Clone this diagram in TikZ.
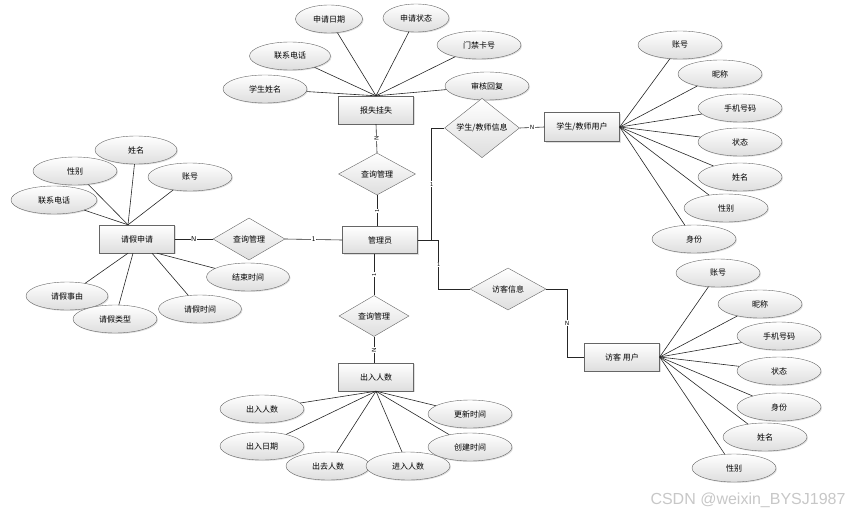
\documentclass[tikz,border=0pt]{standalone}
\usepackage{fontspec}
\newfontfamily\cjk{Noto Sans CJK SC}
\newfontfamily\wmfont{Liberation Sans}
\usetikzlibrary{shapes.geometric, shadows}

\begin{document}
\begin{tikzpicture}[x=1pt,y=1pt,yscale=-1,xscale=1,
  attr/.style={ellipse, draw=black!60, top color=white, bottom color=black!13, minimum width=84, minimum height=28, inner sep=0pt, font=\cjk\fontsize{8}{9}\selectfont, drop shadow={shadow xshift=1pt, shadow yshift=-1pt, fill=black!25}},
  ent/.style={rectangle, draw=black!60, top color=white, bottom color=black!13, minimum width=75, minimum height=28, inner sep=0pt, font=\cjk\fontsize{8}{9}\selectfont, drop shadow={shadow xshift=1pt, shadow yshift=-1pt, fill=black!25}},
  rel/.style={diamond, draw=black!60, top color=white, bottom color=black!13, minimum width=76, minimum height=42, inner sep=0pt, font=\cjk\fontsize{8}{9}\selectfont},
  conn/.style={draw=black!85, line width=0.6pt},
  card/.style={font=\sffamily\fontsize{6}{6}\selectfont, inner sep=0.6pt, fill=white}]
\useasboundingbox (0,0) rectangle (850,516);

%Entity: 报失挂失 and its attributes
\node [ent] (bsgs) at (376,110) {报失挂失};
\node [attr, minimum width=67] (bsgsDate) at (329,19) {申请日期};
\node [attr, minimum width=66] (bsgsState) at (416,18) {申请状态};
\node [attr, minimum width=81] (bsgsTel) at (290,56) {联系电话};
\node [attr] (bsgsCard) at (479,45) {门禁卡号};
\node [attr] (bsgsName) at (265,89) {学生姓名};
\node [attr] (bsgsReply) at (487,86) {审核回复};

%Relations and entities in the middle
\node [rel, minimum width=77] (cxTop) at (377,174) {查询管理};
\node [ent, minimum height=27] (gly) at (380,240) {管理员};
\node [rel, minimum width=72] (cxLeft) at (249,239) {查询管理};
\node [rel, minimum width=70, minimum height=41] (cxBottom) at (374,316) {查询管理};

%Entity: 请假申请 and its attributes
\node [ent] (qjsq) at (137,239) {请假申请};
\node [attr, minimum width=82] (qjName) at (136,150) {姓名};
\node [attr] (qjSex) at (75,171) {性别};
\node [attr] (qjAcc) at (190,177) {账号};
\node [attr, minimum width=86] (qjTel) at (54,200) {联系电话};
\node [attr, minimum width=82] (qjReason) at (67,296) {请假事由};
\node [attr] (qjType) at (115,319) {请假类型};
\node [attr, minimum width=83] (qjTime) at (200,309) {请假时间};
\node [attr, minimum width=83] (qjEnd) at (248,277) {结束时间};

%Entity: 出入人数 and its attributes
\node [ent] (crrs) at (376,377) {出入人数};
\node [attr] (crNum) at (262,409) {出入人数};
\node [attr] (crDate) at (262,446) {出入日期};
\node [attr] (crOut) at (328,466) {出去人数};
\node [attr] (crIn) at (408,466) {进入人数};
\node [attr] (crUpd) at (470,414) {更新时间};
\node [attr] (crNew) at (470,447) {创建时间};

%Entity: 学生/教师用户 and its attributes
\node [rel, minimum width=75, minimum height=41] (xsxx) at (482,128) {学生/教师信息};
\node [ent, minimum height=29] (xsyh) at (582,127) {学生/教师用户};
\node [attr] (xsAcc) at (680,45) {账号};
\node [attr] (xsNick) at (720,74) {昵称};
\node [attr] (xsPhone) at (740,108) {手机号码};
\node [attr] (xsState) at (740,142) {状态};
\node [attr] (xsName) at (740,177) {姓名};
\node [attr] (xsSex) at (726,208) {性别};
\node [attr] (xsRole) at (694,239) {身份};

%Entity: 访客用户 and its attributes
\node [rel] (fkxx) at (508,289) {访客信息};
\node [ent] (fkyh) at (622,357) {访客 用户};
\node [attr] (fkAcc) at (718,273) {账号};
\node [attr] (fkNick) at (760,304) {昵称};
\node [attr] (fkPhone) at (779,336) {手机号码};
\node [attr] (fkState) at (779,371) {状态};
\node [attr] (fkRole) at (779,407) {身份};
\node [attr] (fkName) at (765,437) {姓名};
\node [attr] (fkSex) at (734,468) {性别};

%Straight Lines: attributes of 报失挂失
\draw [conn] (bsgs.north) -- (bsgsDate);
\draw [conn] (bsgs.north) -- (bsgsState);
\draw [conn] (bsgs.north) -- (bsgsTel);
\draw [conn] (bsgs.north) -- (bsgsCard);
\draw [conn] (bsgs.north) -- (bsgsName);
\draw [conn] (bsgs.north) -- (bsgsReply);
%Straight Lines: attributes of 请假申请
\draw [conn] ([xshift=-9pt]qjsq.north) -- (qjName);
\draw [conn] ([xshift=-9pt]qjsq.north) -- (qjSex);
\draw [conn] ([xshift=-9pt]qjsq.north) -- (qjAcc);
\draw [conn] ([xshift=-9pt]qjsq.north) -- (qjTel);
\draw [conn] ([xshift=-9pt]qjsq.south) -- (qjReason);
\draw [conn] ([xshift=-4pt]qjsq.south) -- (qjType);
\draw [conn] ([xshift=15pt]qjsq.south) -- (qjTime);
\draw [conn] ([xshift=20pt]qjsq.south) -- (qjEnd);
%Straight Lines: attributes of 出入人数
\draw [conn] (crrs.south) -- (crNum);
\draw [conn] (crrs.south) -- (crDate);
\draw [conn] (crrs.south) -- (crOut);
\draw [conn] (crrs.south) -- (crIn);
\draw [conn] (crrs.south) -- (crUpd);
\draw [conn] (crrs.south) -- (crNew);
%Straight Lines: attributes of 学生/教师用户
\draw [conn] (xsyh.east) -- (xsAcc);
\draw [conn] (xsyh.east) -- (xsNick);
\draw [conn] (xsyh.east) -- (xsPhone);
\draw [conn] (xsyh.east) -- (xsState);
\draw [conn] (xsyh.east) -- (xsName);
\draw [conn] (xsyh.east) -- (xsSex);
\draw [conn] (xsyh.east) -- (xsRole);
%Straight Lines: attributes of 访客用户
\draw [conn] (fkyh.east) -- (fkAcc);
\draw [conn] (fkyh.east) -- (fkNick);
\draw [conn] (fkyh.east) -- (fkPhone);
\draw [conn] (fkyh.east) -- (fkState);
\draw [conn] (fkyh.east) -- (fkRole);
\draw [conn] (fkyh.east) -- (fkName);
\draw [conn] (fkyh.east) -- (fkSex);

%Relation lines with cardinalities
\draw [conn] (bsgs.south) -- node [card, rotate=90] {N} (cxTop.north);
\draw [conn] (cxTop.south) -- node [card, rotate=90] {1} (cxTop.south |- gly.north);
\draw [conn] (qjsq.east) -- node [card, font=\sffamily\fontsize{7}{7}\selectfont] {N} (cxLeft.west);
\draw [conn] (cxLeft.east) -- node [card, font=\sffamily\fontsize{7}{7}\selectfont] {1} (gly.west);
\draw [conn] (gly.south -| cxBottom.north) -- node [card, rotate=90] {1} (cxBottom.north);
\draw [conn] (cxBottom.south) -- node [card, rotate=90] {N} (crrs.north -| cxBottom.south);
\draw [conn] (gly.east) -- ++(14,0) |- node [card, pos=0.25] {1} (xsxx.west);
\draw [conn] (xsxx.east) -- node [card] {N} (xsyh.west);
\draw [conn] (gly.east) -- ++(21,0) |- node [card, pos=0.25] {1} (fkxx.west);
\draw [conn] (fkxx.east) -- ++(21,0) |- node [card, pos=0.25] {N} (fkyh.west);

% Text Node: watermark
\node [font=\wmfont\fontsize{16}{16}\selectfont, text=black!22, inner sep=0pt] (mark) at (748,500) {CSDN @weixin\_BYSJ1987};

\end{tikzpicture}
\end{document}
